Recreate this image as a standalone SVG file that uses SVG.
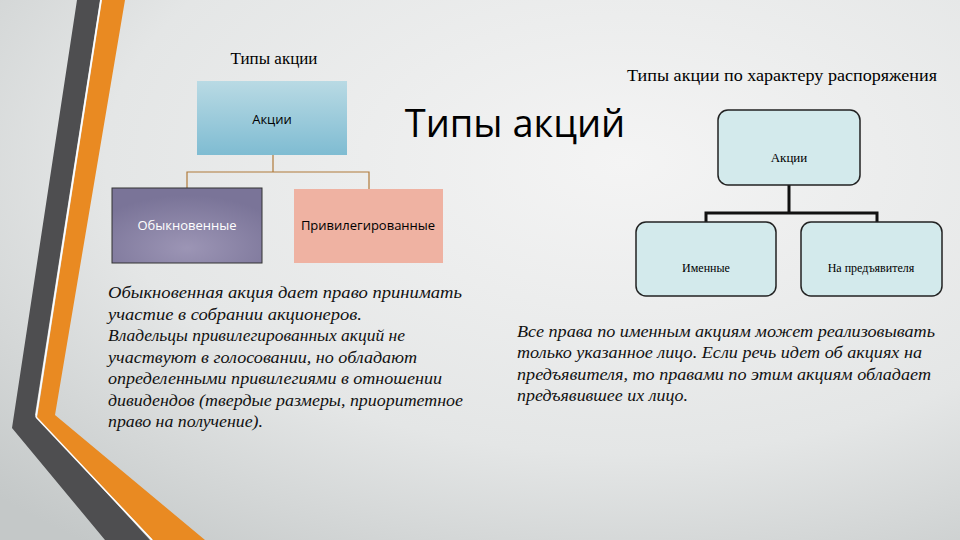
<svg xmlns="http://www.w3.org/2000/svg" width="960" height="540" viewBox="0 0 960 540">
<defs>
<radialGradient id="bg" cx="0.65" cy="0.3" r="0.9"><stop offset="0" stop-color="#f4f4f4"/><stop offset="0.6" stop-color="#e4e6e6"/><stop offset="1" stop-color="#c4c8c8"/></radialGradient>
<linearGradient id="blue" x1="0" y1="0" x2="0" y2="1"><stop offset="0" stop-color="#b9dae4"/><stop offset="1" stop-color="#7fbcd2"/></linearGradient>
<radialGradient id="purple" cx="0.5" cy="0.8" r="0.7"><stop offset="0" stop-color="#9c95b5"/><stop offset="1" stop-color="#7a7498"/></radialGradient>
<style>
.serif{font-family:"Liberation Serif",serif}
.sans{font-family:"Open Sans","DejaVu Sans",sans-serif}
.para{font-family:"Liberation Serif",serif;font-style:italic;font-size:17px;fill:#111}
.rbox{fill:#d3eaec;stroke:#222;stroke-width:1.5}
</style>
</defs>
<rect width="960" height="540" fill="url(#bg)"/>
<polygon points="77,0 100,0 35,415 150,540 105,540 12,428" fill="#4e4e50"/>
<polygon points="102,0 125,0 55,415 205,540 153,540 37,418" fill="#e98a22"/>
<line x1="101" y1="0" x2="36" y2="417" stroke="#fff" stroke-width="1.5"/>
<line x1="36" y1="417" x2="152" y2="540" stroke="#fff" stroke-width="1.5"/>
<text x="274" y="64" text-anchor="middle" class="serif" font-size="17">Типы акции</text>
<text x="627" y="81" class="serif" font-size="16" textLength="310" lengthAdjust="spacingAndGlyphs">Типы акции по характеру распоряжения</text>
<text x="515" y="137" text-anchor="middle" class="sans" font-size="38">Типы акций</text>
<g id="connectors" fill="none">
<path d="M273,155V172M187,188V172H369V189" stroke="#b07a3a" stroke-width="1.2"/>
<path d="M789,185V213M706,222V213H877V222" stroke="#111" stroke-width="3"/>
</g>
<g id="n-akcii-left"><rect x="197" y="81" width="150" height="74" fill="url(#blue)"/><text x="272" y="124" text-anchor="middle" class="sans" font-size="13">Акции</text></g>
<g id="n-obykn"><rect x="112" y="188" width="150" height="75" fill="url(#purple)" stroke="#333" stroke-width="1"/><text x="187" y="230" text-anchor="middle" class="sans" font-size="13" fill="#fff">Обыкновенные</text></g>
<g id="n-priv"><rect x="294" y="189" width="149" height="74" fill="#efb2a2"/><text x="368" y="230" text-anchor="middle" class="sans" font-size="13">Привилегированные</text></g>
<g id="n-akcii-right"><rect x="718" y="110" width="142" height="75" rx="10" class="rbox"/><text x="789" y="162" text-anchor="middle" class="serif" font-size="13">Акции</text></g>
<g id="n-imen"><rect x="636" y="222" width="140" height="74" rx="10" class="rbox"/><text x="706" y="272" text-anchor="middle" class="serif" font-size="12">Именные</text></g>
<g id="n-pred"><rect x="801" y="222" width="141" height="74" rx="10" class="rbox"/><text x="871" y="272" text-anchor="middle" class="serif" font-size="12">На предъявителя</text></g>
<g class="para">
<text x="108" y="298" textLength="354" lengthAdjust="spacingAndGlyphs">Обыкновенная акция дает право принимать</text>
<text x="108" y="320" textLength="254" lengthAdjust="spacingAndGlyphs">участие в собрании акционеров.</text>
<text x="108" y="341" textLength="297" lengthAdjust="spacingAndGlyphs">Владельцы привилегированных акций не</text>
<text x="108" y="363" textLength="309" lengthAdjust="spacingAndGlyphs">участвуют в голосовании, но обладают</text>
<text x="108" y="384" textLength="334" lengthAdjust="spacingAndGlyphs">определенными привилегиями в отношении</text>
<text x="108" y="406" textLength="355" lengthAdjust="spacingAndGlyphs">дивидендов (твердые размеры, приоритетное</text>
<text x="108" y="427" textLength="155" lengthAdjust="spacingAndGlyphs">право на получение).</text>
<text x="517" y="337" textLength="418" lengthAdjust="spacingAndGlyphs">Все права по именным акциям может реализовывать</text>
<text x="517" y="358" textLength="405" lengthAdjust="spacingAndGlyphs">только указанное лицо. Если речь идет об акциях на</text>
<text x="517" y="380" textLength="414" lengthAdjust="spacingAndGlyphs">предъявителя, то правами по этим акциям обладает</text>
<text x="517" y="401" textLength="171" lengthAdjust="spacingAndGlyphs">предъявившее их лицо.</text>
</g>
</svg>
